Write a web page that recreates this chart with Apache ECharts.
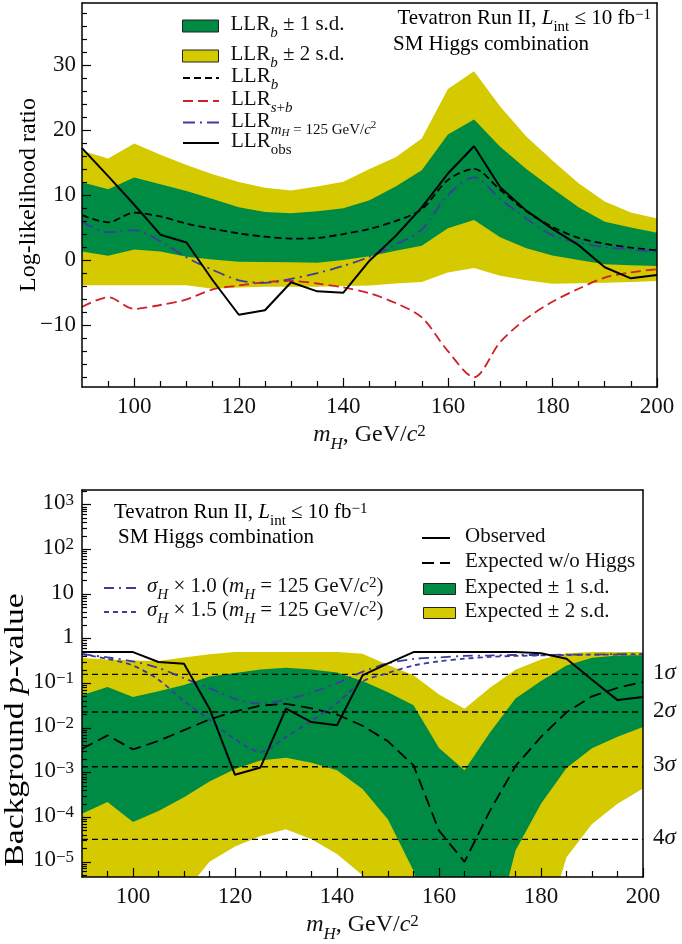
<!DOCTYPE html>
<html>
<head>
<meta charset="utf-8">
<title>Tevatron SM Higgs combination</title>
<script src="https://cdn.jsdelivr.net/npm/echarts@6/dist/echarts.min.js"></script>
<style>
html,body{margin:0;padding:0;background:#ffffff;}
#chart{width:682px;height:944px;}
</style>
</head>
<body>
<div id="chart"></div>
<script>
// ---------------- data ----------------
const masses = [90, 95, 100, 105, 110, 115, 120, 125, 130, 135, 140, 145, 150, 155, 160, 165, 170, 175, 180, 185, 190, 195, 200];

// top panel: log-likelihood ratio
const llrBand2Up = [16.8, 15.6, 17.9, 16.2, 14.6, 13.2, 12.0, 11.1, 10.7, 11.3, 12.05, 14.0, 15.8, 18.7, 26.3, 29.0, 23.6, 19.0, 15.3, 11.8, 9.0, 7.3, 6.4];
const llrBand1Up = [11.95, 10.9, 12.7, 11.65, 10.6, 9.4, 8.1, 7.4, 7.2, 7.5, 7.95, 9.2, 11.3, 13.8, 19.3, 21.6, 17.4, 14.0, 11.0, 8.1, 5.9, 5.0, 4.2];
const llrBand1Lo = [1.3, 0.67, 1.64, 1.3, 0.5, 0.1, -0.26, -0.3, -0.35, -0.4, 0.0, 0.6, 1.45, 2.2, 4.9, 6.15, 3.5, 1.8, 0.7, 0.0, -0.65, -0.8, -0.9];
const llrBand2Lo = [-3.85, -3.85, -3.85, -3.85, -3.85, -4.4, -4.2, -4.1, -4.1, -4.1, -4.0, -3.9, -3.6, -3.35, -1.9, -1.2, -2.4, -3.1, -3.65, -3.55, -3.5, -3.35, -3.2];
const llrB = [6.9, 5.8, 7.3, 6.7, 5.6, 4.8, 4.1, 3.6, 3.3, 3.4, 4.0, 4.8, 6.0, 7.8, 12.3, 14.0, 10.8, 7.5, 5.1, 3.4, 2.5, 1.9, 1.5];
const llrSB = [-7.2, -5.7, -7.5, -6.9, -6.05, -4.5, -3.9, -3.4, -3.2, -3.6, -4.2, -5.1, -6.6, -8.8, -14.0, -18.0, -12.6, -9.0, -6.4, -4.4, -2.7, -1.9, -1.4];
const llrMH125 = [5.9, 4.25, 4.6, 2.9, 0.4, -1.5, -3.1, -3.5, -2.9, -2.0, -0.9, 0.5, 2.4, 4.7, 10.0, 12.7, 9.4, 6.4, 3.8, 2.7, 2.0, 1.6, 1.3];
const llrObs = [17.2, 12.9, 8.5, 3.9, 2.7, -3.1, -8.4, -7.7, -3.4, -4.8, -5.0, -0.1, 3.7, 8.1, 13.3, 17.5, 11.2, 7.6, 4.8, 2.3, -1.1, -2.8, -2.3];

// bottom panel: background p-value
const pBand2Up = [0.37, 0.339, 0.324, 0.316, 0.38, 0.447, 0.5, 0.5, 0.5, 0.5, 0.5, 0.457, 0.257, 0.151, 0.056, 0.0269, 0.079, 0.2, 0.339, 0.468, 0.5, 0.5, 0.5];
const pBand2Lo = [1e-6, 1e-6, 1e-6, 1e-6, 2e-6, 1e-5, 2.2e-5, 3.8e-5, 5.4e-5, 3.2e-5, 1.5e-5, 5e-6, 3e-7, 3e-8, 1e-10, 1e-11, 1e-10, 3e-9, 1.6e-7, 1.26e-5, 7e-5, 2e-4, 4.4e-4];
const pBand1Up = [0.054, 0.083, 0.049, 0.066, 0.091, 0.141, 0.17, 0.204, 0.224, 0.204, 0.174, 0.112, 0.063, 0.0324, 0.00355, 0.00112, 0.0079, 0.0457, 0.112, 0.251, 0.372, 0.417, 0.427];
const pBand1Lo = [1.2e-4, 2.2e-4, 7.8e-5, 1.38e-4, 2.8e-4, 6.3e-4, 1.2e-3, 1.86e-3, 2.14e-3, 1.66e-3, 1.12e-3, 4.3e-4, 8.9e-5, 6.3e-6, 3.2e-8, 1e-9, 1e-7, 1.8e-5, 2.0e-4, 1.26e-3, 3.5e-3, 6.3e-3, 0.0105];
const pExpected = [0.0034, 0.0068, 0.0033, 0.0051, 0.0089, 0.0155, 0.0234, 0.0316, 0.0347, 0.0275, 0.020, 0.0112, 0.0050, 0.00145, 0.00005, 0.00001, 0.00014, 0.0014, 0.0063, 0.0224, 0.051, 0.079, 0.107];
const pObserved = [0.5, 0.5, 0.5, 0.30, 0.275, 0.027, 0.00089, 0.0013, 0.027, 0.0135, 0.0115, 0.15, 0.28, 0.5, 0.5, 0.5, 0.5, 0.5, 0.47, 0.355, 0.12, 0.042, 0.049];
const pSigma10 = [0.45, 0.38, 0.31, 0.22, 0.13, 0.078, 0.045, 0.035, 0.043, 0.062, 0.10, 0.18, 0.28, 0.35, 0.38, 0.41, 0.42, 0.43, 0.43, 0.44, 0.44, 0.45, 0.45];
const pSigma15 = [0.45, 0.35, 0.25, 0.12, 0.040, 0.015, 0.0056, 0.0029, 0.0063, 0.0145, 0.036, 0.11, 0.17, 0.25, 0.31, 0.355, 0.39, 0.41, 0.42, 0.43, 0.44, 0.44, 0.45];

const sigmaLevels = [0.1587, 0.02275, 0.00135, 3.17e-5];
const sigmaNames = ['1', '2', '3', '4'];

// ticks
const massTicks = [100, 120, 140, 160, 180, 200];
const llrTicks = [-10, 0, 10, 20, 30];
const pTicks = [1000, 100, 10, 1, 0.1, 0.01, 0.001, 0.0001, 0.00001];

// ---------------- layout / style ----------------
const FONT = "'Liberation Serif', 'Times New Roman', Times, serif";
const INK = '#111111';
const GREEN = '#008B45';
const YELLOW = '#D5C900';
const RED = '#CE2127';
const BLUE = '#3C3C9E';
const LLR_MIN = -19.5, LLR_MAX = 39.5;
const P_MIN = 4.57e-6, P_MAX = 2140;
const MASS_MIN = 90, MASS_MAX = 200;

const massMinorTicks = [];
for (let m = 95; m <= 195; m += 5) if (m % 20 !== 0) massMinorTicks.push(m);
const llrMinorTicks = [];
for (let v = -18; v <= 38; v += 2) if (v % 10 !== 0) llrMinorTicks.push(v);
const pMinorTicks = [];
for (let e = -6; e <= 3; e++) for (let k = 2; k <= 9; k++) {
  const v = k * Math.pow(10, e);
  if (v > P_MIN && v < P_MAX) pMinorTicks.push(v);
}

function mkRich(size) {
  const L = Math.round(size * 1.15);
  const s = Math.round(size * 0.72);
  const t = Math.round(size * 0.52);
  const b = {fontFamily: FONT, color: INK, verticalAlign: 'top'};
  return {
    n: Object.assign({}, b, {fontSize: size, lineHeight: L}),
    i: Object.assign({}, b, {fontSize: size, lineHeight: L, fontStyle: 'italic'}),
    sb: Object.assign({}, b, {fontSize: s, lineHeight: s, padding: [Math.round(size * 0.55), 0, 0, 0]}),
    sbi: Object.assign({}, b, {fontSize: s, lineHeight: s, fontStyle: 'italic', padding: [Math.round(size * 0.55), 0, 0, 0]}),
    sp: Object.assign({}, b, {fontSize: s, lineHeight: s}),
    ssb: Object.assign({}, b, {fontSize: t, lineHeight: t, fontStyle: 'italic', padding: [Math.round(size * 0.8), 0, 0, 0]}),
    ssp: Object.assign({}, b, {fontSize: t, lineHeight: t, padding: [Math.round(size * 0.45), 0, 0, 0]})
  };
}

const LABELS = {
  tb1: '{n|LLR}{sbi|b}{n| ± 1 s.d.}',
  tb2: '{n|LLR}{sbi|b}{n| ± 2 s.d.}',
  LLRb: '{n|LLR}{sbi|b}',
  LLRsb: '{n|LLR}{sbi|s}{sb|+}{sbi|b}',
  LLRmH: '{n|LLR}{sbi|m}{ssb|H}{sb| = 125 GeV/}{sbi|c}{ssp|2}',
  LLRobs: '{n|LLR}{sb|obs}',
  Observed: '{n|Observed}',
  Expected: '{n|Expected w/o Higgs}',
  bb1: '{n|Expected ± 1 s.d.}',
  bb2: '{n|Expected ± 2 s.d.}',
  sig10: '{i|σ}{sbi|H}{n| × 1.0 (}{i|m}{sbi|H}{n| = 125 GeV/}{i|c}{sp|2}{n|)}',
  sig15: '{i|σ}{sbi|H}{n| × 1.5 (}{i|m}{sbi|H}{n| = 125 GeV/}{i|c}{sp|2}{n|)}'
};

const pairs = arr => masses.map((m, i) => [m, arr[i]]);
const tickLine = {color: '#000', width: 1.2};
const frameLine = {color: '#000', width: 1.5};

function xAxes(grid) {
  return [
    {gridIndex: grid, type: 'value', position: 'bottom', min: MASS_MIN, max: MASS_MAX, z: 10,
     axisLine: {show: true, onZero: false, lineStyle: frameLine},
     axisTick: {show: true, inside: true, length: 9, customValues: massTicks, lineStyle: tickLine},
     axisLabel: {show: true, customValues: massTicks, margin: 8, fontFamily: FONT, fontSize: 23, color: INK},
     splitLine: {show: false},
     name: '{i|m}{sbi|H}{n|, GeV/}{i|c}{sp|2}', nameLocation: 'middle', nameGap: 36, nameMoveOverlap: false,
     nameTextStyle: {rich: mkRich(24)}},
    {gridIndex: grid, type: 'value', position: 'bottom', min: MASS_MIN, max: MASS_MAX, z: 10,
     axisLine: {show: false, onZero: false},
     axisTick: {show: true, inside: true, length: 6, customValues: massMinorTicks, lineStyle: tickLine},
     axisLabel: {show: false}, splitLine: {show: false}},
    {gridIndex: grid, type: 'value', position: 'top', min: MASS_MIN, max: MASS_MAX, z: 10,
     axisLine: {show: true, onZero: false, lineStyle: frameLine},
     axisTick: {show: false}, axisLabel: {show: false}, splitLine: {show: false}}
  ];
}

function pLabel(v) {
  const e = Math.round(Math.log10(v));
  if (e === 0) return '{n|1}';
  if (e === 1) return '{n|10}';
  return '{n|10}{sp|' + (e < 0 ? '−' + (-e) : e) + '}';
}

const yAxes = [
  {gridIndex: 0, type: 'value', position: 'left', min: LLR_MIN, max: LLR_MAX, z: 10,
   axisLine: {show: true, onZero: false, lineStyle: frameLine},
   axisTick: {show: true, inside: true, length: 9, customValues: llrTicks, lineStyle: tickLine},
   axisLabel: {show: true, customValues: llrTicks, margin: 6, fontFamily: FONT, fontSize: 23, color: INK,
     formatter: v => (v < 0 ? '−' + Math.abs(v) : String(v))},
   splitLine: {show: false}},
  {gridIndex: 0, type: 'value', position: 'left', min: LLR_MIN, max: LLR_MAX, z: 10,
   axisLine: {show: false, onZero: false},
   axisTick: {show: true, inside: true, length: 5, customValues: llrMinorTicks, lineStyle: tickLine},
   axisLabel: {show: false}, splitLine: {show: false}},
  {gridIndex: 0, type: 'value', position: 'right', min: LLR_MIN, max: LLR_MAX, z: 10,
   axisLine: {show: true, onZero: false, lineStyle: frameLine},
   axisTick: {show: false}, axisLabel: {show: false}, splitLine: {show: false}},
  {gridIndex: 1, type: 'log', logBase: 10, position: 'left', min: P_MIN, max: P_MAX, z: 10,
   axisLine: {show: true, onZero: false, lineStyle: frameLine},
   axisTick: {show: true, inside: true, length: 9, customValues: pTicks, lineStyle: tickLine},
   axisLabel: {show: true, customValues: pTicks, margin: 8, formatter: pLabel, rich: mkRich(23)},
   splitLine: {show: false}},
  {gridIndex: 1, type: 'log', logBase: 10, position: 'left', min: P_MIN, max: P_MAX, z: 10,
   axisLine: {show: false, onZero: false},
   axisTick: {show: true, inside: true, length: 5, customValues: pMinorTicks, lineStyle: tickLine},
   axisLabel: {show: false}, splitLine: {show: false}},
  {gridIndex: 1, type: 'log', logBase: 10, position: 'right', min: P_MIN, max: P_MAX, z: 10,
   axisLine: {show: true, onZero: false, lineStyle: frameLine},
   axisTick: {show: false}, axisLabel: {show: false}, splitLine: {show: false}}
];

// Sutherland-Hodgman clip of a pixel polygon against the grid rectangle
function clipPolygon(pts, r) {
  const edges = [
    p => p[0] >= r.x, p => p[0] <= r.x + r.width,
    p => p[1] >= r.y, p => p[1] <= r.y + r.height
  ];
  const inter = [
    (a, b) => { const t = (r.x - a[0]) / (b[0] - a[0]); return [r.x, a[1] + t * (b[1] - a[1])]; },
    (a, b) => { const X = r.x + r.width; const t = (X - a[0]) / (b[0] - a[0]); return [X, a[1] + t * (b[1] - a[1])]; },
    (a, b) => { const t = (r.y - a[1]) / (b[1] - a[1]); return [a[0] + t * (b[0] - a[0]), r.y]; },
    (a, b) => { const Y = r.y + r.height; const t = (Y - a[1]) / (b[1] - a[1]); return [a[0] + t * (b[0] - a[0]), Y]; }
  ];
  let out = pts;
  for (let k = 0; k < 4; k++) {
    const inp = out; out = [];
    if (!inp.length) break;
    for (let i = 0; i < inp.length; i++) {
      const cur = inp[i], prev = inp[(i + inp.length - 1) % inp.length];
      const cin = edges[k](cur), pin = edges[k](prev);
      if (cin) { if (!pin) out.push(inter[k](prev, cur)); out.push(cur); }
      else if (pin) out.push(inter[k](prev, cur));
    }
  }
  return out;
}

// band between lower and upper edges, drawn through the axes' own scales (api.coord)
function band(name, up, lo, color, xi, yi) {
  return {
    type: 'custom', name: name, xAxisIndex: xi, yAxisIndex: yi, color: color, itemStyle: {color: color},
    silent: true, z: 1,
    data: masses.map((m, i) => [m, lo[i], up[i]]),
    encode: {x: 0, y: [1, 2]},
    renderItem: function (params, api) {
      if (params.dataIndexInside !== 0) return null;
      const n = params.dataInsideLength;
      const upper = [], lower = [];
      for (let j = 0; j < n; j++) {
        const m = api.value(0, j);
        lower.push(api.coord([m, api.value(1, j)]));
        upper.push(api.coord([m, api.value(2, j)]));
      }
      const poly = clipPolygon(upper.concat(lower.reverse()), params.coordSys);
      return {type: 'polygon', shape: {points: poly}, style: {fill: color, stroke: null}};
    }
  };
}

function curve(name, arr, color, width, type, smooth, xi, yi) {
  return {type: 'line', name: name, xAxisIndex: xi, yAxisIndex: yi, data: pairs(arr),
    symbol: 'none', smooth: smooth, color: color, itemStyle: {color: color},
    lineStyle: {color: color, width: width, type: type}, silent: true, z: 4};
}

const sigmaSeries = sigmaLevels.map((v, i) => ({
  type: 'line', name: 'sigma' + sigmaNames[i], xAxisIndex: 3, yAxisIndex: 3,
  data: [[MASS_MIN, v], [MASS_MAX, v]], symbol: 'none', silent: true, z: 3,
  lineStyle: {color: '#000', width: 1.3, type: [6, 4]},
  endLabel: {show: true, distance: 10, formatter: '{n|' + sigmaNames[i] + '}{i|σ}', rich: mkRich(23)}
}));

const series = [].concat(
  [
    band('tb2', llrBand2Up, llrBand2Lo, YELLOW, 0, 0),
    band('tb1', llrBand1Up, llrBand1Lo, GREEN, 0, 0),
    curve('LLRb', llrB, '#000', 1.8, [7, 4], 0.3, 0, 0),
    curve('LLRsb', llrSB, RED, 1.8, [10, 5], 0.3, 0, 0),
    curve('LLRmH', llrMH125, BLUE, 1.8, [12, 5, 2, 5], 0.3, 0, 0),
    curve('LLRobs', llrObs, '#000', 2, 'solid', false, 0, 0),
    band('bb2', pBand2Up, pBand2Lo, YELLOW, 3, 3),
    band('bb1', pBand1Up, pBand1Lo, GREEN, 3, 3)
  ],
  sigmaSeries,
  [
    curve('Expected', pExpected, '#000', 1.8, [12, 6], false, 3, 3),
    curve('sig10', pSigma10, BLUE, 1.8, [10, 5, 2, 5], 0.3, 3, 3),
    curve('sig15', pSigma15, BLUE, 1.8, [5, 4], 0.3, 3, 3),
    curve('Observed', pObserved, '#000', 2, 'solid', false, 3, 3)
  ]
);

const LEG_SIZE = 21;
function leg(name, left, cy, h, cfg) {
  return {
    data: [name], left: left, top: cy - h / 2, orient: 'vertical', padding: 0, itemGap: 0,
    itemWidth: cfg.w, itemHeight: cfg.ih, icon: cfg.icon, selectedMode: false,
    formatter: n => LABELS[n],
    textStyle: {fontFamily: FONT, fontSize: LEG_SIZE, color: INK, padding: [0, 0, 0, cfg.pad], rich: mkRich(LEG_SIZE)},
    itemStyle: cfg.color ? {color: cfg.color, opacity: 1, borderColor: '#222', borderWidth: 1} : {opacity: 0}
  };
}

const legends = [
  leg('tb1', 182, 27, 26, {w: 36, ih: 12, icon: 'rect', pad: 7, color: GREEN}),
  leg('tb2', 182, 57, 26, {w: 36, ih: 12, icon: 'rect', pad: 7, color: YELLOW}),
  leg('LLRb', 182, 79, 26, {w: 36, ih: 4, pad: 7}),
  leg('LLRsb', 182, 102, 26, {w: 36, ih: 4, pad: 7}),
  leg('LLRmH', 182, 124, 27, {w: 36, ih: 4, pad: 7}),
  leg('LLRobs', 182, 144, 26, {w: 36, ih: 4, pad: 7}),
  leg('Observed', 421, 538, 24, {w: 28, ih: 4, pad: 10}),
  leg('Expected', 421, 563, 24, {w: 28, ih: 4, pad: 10}),
  leg('bb1', 423, 589, 24, {w: 32, ih: 11, icon: 'rect', pad: 4, color: GREEN}),
  leg('bb2', 423, 613, 24, {w: 32, ih: 11, icon: 'rect', pad: 4, color: YELLOW}),
  leg('sig10', 103, 589, 26, {w: 34, ih: 4, pad: 4}),
  leg('sig15', 103, 613, 26, {w: 34, ih: 4, pad: 4})
];

const richAnn = mkRich(21);
const richTitle = mkRich(24);
const richBig = mkRich(28);
const graphic = [
  {type: 'text', x: 651, y: 8, z: 20, style: {text: '{n|Tevatron Run II, }{i|L}{sb|int}{n| ≤ 10 fb}{sp|−1}', rich: richAnn, align: 'right', verticalAlign: 'top'}},
  {type: 'text', x: 393, y: 34, z: 20, style: {text: '{n|SM Higgs combination}', rich: richAnn, align: 'left', verticalAlign: 'top'}},
  {type: 'text', x: 114, y: 502, z: 20, style: {text: '{n|Tevatron Run II, }{i|L}{sb|int}{n| ≤ 10 fb}{sp|−1}', rich: richAnn, align: 'left', verticalAlign: 'top'}},
  {type: 'text', x: 118, y: 527, z: 20, style: {text: '{n|SM Higgs combination}', rich: richAnn, align: 'left', verticalAlign: 'top'}},
  {type: 'text', x: 31, y: 195, rotation: Math.PI / 2, z: 20, style: {text: '{n|Log-likelihood ratio}', rich: richTitle, align: 'center', verticalAlign: 'middle'}},
  {type: 'text', x: 18, y: 730, rotation: Math.PI / 2, scaleX: 1.2, z: 20, style: {text: '{n|Background }{i|p}{n|-value}', rich: richBig, align: 'center', verticalAlign: 'middle'}}
];

const option = {
  animation: false,
  backgroundColor: '#ffffff',
  grid: [
    {left: 82, top: 3, width: 575, height: 384, show: false, containLabel: false, outerBoundsMode: 'none'},
    {left: 82, top: 490, width: 561, height: 387, show: false, containLabel: false, outerBoundsMode: 'none'}
  ],
  xAxis: [].concat(xAxes(0), xAxes(1)),
  yAxis: yAxes,
  legend: legends,
  graphic: graphic,
  series: series
};

const chart = echarts.init(document.getElementById('chart'), null, {renderer: 'canvas', width: 682, height: 944});
chart.setOption(option);
</script>
</body>
</html>
